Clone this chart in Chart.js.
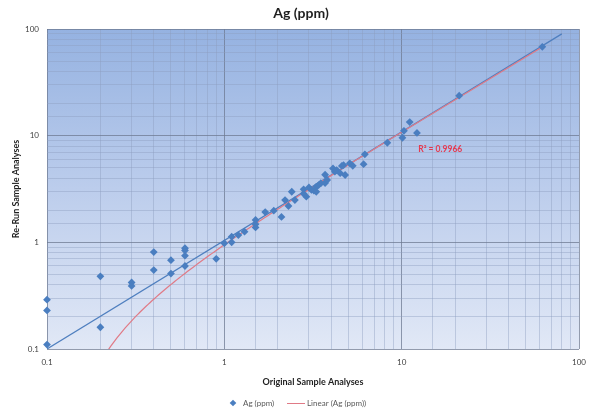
<!DOCTYPE html>
<html>
<head>
<meta charset="utf-8">
<title>Ag (ppm)</title>
<script src="https://cdn.jsdelivr.net/npm/chart.js@4/dist/chart.umd.min.js"></script>
<style>
  html, body { margin: 0; padding: 0; background: #ffffff; }
  #wrap { width: 589px; height: 415px; position: relative; }
</style>
</head>
<body>
<div id="wrap"><canvas id="chart" width="589" height="415"></canvas></div>
<script>
// Original vs. re-run assay values for silver (ppm)
const originalPpm = [
  0.1, 0.1, 0.1, 0.2, 0.2, 0.3, 0.3, 0.4, 0.4, 0.5, 0.5,
  0.6, 0.6, 0.6, 0.6, 0.9, 1.0, 1.1, 1.1, 1.2, 1.3,
  1.5, 1.5, 1.5, 1.7, 1.9, 2.1, 2.2, 2.3, 2.4, 2.5,
  2.8, 2.8, 2.9, 3.0, 3.1, 3.2, 3.3, 3.3, 3.4, 3.5,
  3.7, 3.7, 3.8, 4.1, 4.2, 4.3, 4.5, 4.6, 4.7, 4.8,
  5.1, 5.3, 6.1, 6.2, 8.3, 10.1, 10.3, 11.1, 12.2, 21.1, 62.1
];
const rerunPpm = [
  0.29, 0.23, 0.11, 0.48, 0.16, 0.42, 0.39, 0.81, 0.55, 0.68, 0.51,
  0.88, 0.84, 0.75, 0.6, 0.7, 0.98, 1.13, 1.0, 1.17, 1.26,
  1.62, 1.48, 1.38, 1.92, 1.98, 1.73, 2.49, 2.19, 2.98, 2.49,
  3.14, 2.86, 2.68, 3.27, 3.1, 3.05, 2.98, 3.32, 3.44, 3.58,
  4.3, 3.6, 3.84, 4.93, 4.6, 4.76, 4.45, 5.2, 5.3, 4.28,
  5.5, 5.22, 5.4, 6.68, 8.58, 9.56, 11.1, 13.4, 10.6, 23.7, 68.1
];

// Reference line drawn across the plot
const referenceX = [0.1, 80];
const referenceY = [0.1, 90];

// Axis range and labelled decades
const axisMin = 0.1;
const axisMax = 100;
const decadeLabels = ['0.1', '1', '10', '100'];

const chartTitle = 'Ag (ppm)';
const xAxisTitle = 'Original Sample Analyses';
const yAxisTitle = 'Re-Run Sample Analyses';
const seriesName = 'Ag (ppm)';
const trendName = 'Linear (Ag (ppm))';
const rSquaredText = 'R\u00B2 = 0.9966';

const FONT = 'Lato, "Liberation Sans", sans-serif';
const POINT_BLUE = '#4a7ec0';
const LINE_BLUE = '#4f7fbf';
const TREND_RED = '#e07a86';

// Least-squares straight line through the samples
function linearFit(xs, ys) {
  const n = xs.length;
  let sx = 0, sy = 0, sxx = 0, sxy = 0;
  for (let i = 0; i < n; i++) {
    sx += xs[i]; sy += ys[i];
    sxx += xs[i] * xs[i]; sxy += xs[i] * ys[i];
  }
  const slope = (n * sxy - sx * sy) / (n * sxx - sx * sx);
  const intercept = (sy - slope * sx) / n;
  return { slope, intercept };
}

const fit = linearFit(originalPpm, rerunPpm);
const xLo = Math.min(...originalPpm);
const xHi = Math.max(...originalPpm);

// The straight fit bends on log axes, so trace it with many steps
const trendPoints = [];
const steps = 240;
for (let i = 0; i <= steps; i++) {
  const x = xLo * Math.pow(xHi / xLo, i / steps);
  const y = fit.slope * x + fit.intercept;
  if (y > 0.02) trendPoints.push({ x, y });
}

const samplePoints = originalPpm.map((x, i) => ({ x, y: rerunPpm[i] }));
const referencePoints = referenceX.map((x, i) => ({ x, y: referenceY[i] }));

function isDecade(v) {
  const l = Math.log10(v);
  return Math.abs(l - Math.round(l)) < 1e-6;
}
function decadeLabel(v) {
  if (!isDecade(v)) return '';
  const idx = Math.round(Math.log10(v)) - Math.round(Math.log10(axisMin));
  return decadeLabels[idx] !== undefined ? decadeLabels[idx] : '';
}

const gridColor = (ctx) => (ctx.tick && isDecade(ctx.tick.value)) ? 'rgba(110,122,146,0.75)' : 'rgba(140,158,190,0.42)';

// Plot-area gradient, title, R² note and legend
const decorations = {
  id: 'decorations',
  beforeDraw(chart) {
    const { ctx, chartArea: a } = chart;
    ctx.save();
    const g = ctx.createLinearGradient(0, a.top, 0, a.bottom);
    g.addColorStop(0, '#95b2e1');
    g.addColorStop(0.5, '#bccdec');
    g.addColorStop(1, '#e1e8f6');
    ctx.fillStyle = g;
    ctx.fillRect(a.left, a.top, a.right - a.left, a.bottom - a.top);
    ctx.restore();
  },
  afterDraw(chart) {
    const { ctx } = chart;
    const xs = chart.scales.x, ys = chart.scales.y;
    ctx.save();
    // title
    ctx.fillStyle = '#1f1f1f';
    ctx.font = 'bold 14px ' + FONT;
    ctx.textAlign = 'center';
    ctx.textBaseline = 'middle';
    ctx.fillText(chartTitle, 301, 13);

    // R² note beside the fit
    ctx.fillStyle = '#e63a50';
    ctx.font = 'bold 8.5px ' + FONT;
    ctx.textAlign = 'left';
    ctx.fillText(rSquaredText, xs.getPixelForValue(12.4), ys.getPixelForValue(7.4));

    // legend
    const ly = 403;
    ctx.fillStyle = POINT_BLUE;
    ctx.beginPath();
    ctx.moveTo(233, ly - 3.3);
    ctx.lineTo(236.3, ly);
    ctx.lineTo(233, ly + 3.3);
    ctx.lineTo(229.7, ly);
    ctx.closePath();
    ctx.fill();
    ctx.fillStyle = '#595959';
    ctx.font = '8px ' + FONT;
    ctx.textAlign = 'left';
    ctx.fillText(seriesName, 243, ly);
    ctx.strokeStyle = TREND_RED;
    ctx.lineWidth = 1;
    ctx.beginPath();
    ctx.moveTo(287, ly + 0.5);
    ctx.lineTo(305, ly + 0.5);
    ctx.stroke();
    ctx.fillText(trendName, 307, ly);
    ctx.restore();
  }
};

new Chart(document.getElementById('chart'), {
  type: 'scatter',
  data: {
    datasets: [
      {
        label: seriesName,
        data: samplePoints,
        pointStyle: 'rectRot',
        pointRadius: 3.9,
        pointHoverRadius: 3.9,
        backgroundColor: POINT_BLUE,
        borderColor: POINT_BLUE,
        borderWidth: 0,
        clip: false
      },
      {
        label: trendName,
        data: trendPoints,
        showLine: true,
        pointRadius: 0,
        borderColor: TREND_RED,
        borderWidth: 1.2,
        tension: 0
      },
      {
        label: 'reference',
        data: referencePoints,
        showLine: true,
        pointRadius: 0,
        borderColor: LINE_BLUE,
        borderWidth: 1.2
      }
    ]
  },
  options: {
    responsive: false,
    animation: false,
    devicePixelRatio: 1,
    layout: { padding: { top: 29, right: 10, bottom: 26, left: 0 } },
    plugins: {
      legend: { display: false },
      title: { display: false },
      tooltip: { enabled: false }
    },
    scales: {
      x: {
        type: 'logarithmic',
        position: 'bottom',
        min: axisMin,
        max: axisMax,
        afterFit: (s) => { s.height = 40; s.paddingLeft = 0; s.paddingRight = 0; },
        grid: { color: gridColor, lineWidth: 1, drawTicks: false },
        border: { display: false },
        ticks: {
          autoSkip: false,
          maxRotation: 0,
          padding: 9,
          color: '#404040',
          font: { family: FONT, size: 8 },
          callback: (v) => decadeLabel(v)
        },
        title: {
          display: true,
          text: xAxisTitle,
          color: '#1f1f1f',
          font: { family: FONT, size: 9, weight: 'bold' },
          padding: { top: 0, bottom: 2 }
        }
      },
      y: {
        type: 'logarithmic',
        position: 'left',
        min: axisMin,
        max: axisMax,
        afterFit: (s) => { s.width = 47; s.paddingTop = 0; s.paddingBottom = 0; },
        grid: { color: gridColor, lineWidth: 1, drawTicks: false },
        border: { display: false },
        ticks: {
          autoSkip: false,
          padding: 8,
          color: '#404040',
          font: { family: FONT, size: 8 },
          callback: (v) => decadeLabel(v)
        },
        title: {
          display: true,
          text: yAxisTitle,
          color: '#1f1f1f',
          font: { family: FONT, size: 9, weight: 'bold' },
          padding: { top: 11, bottom: 0 }
        }
      }
    }
  },
  plugins: [decorations]
});
</script>
</body>
</html>
